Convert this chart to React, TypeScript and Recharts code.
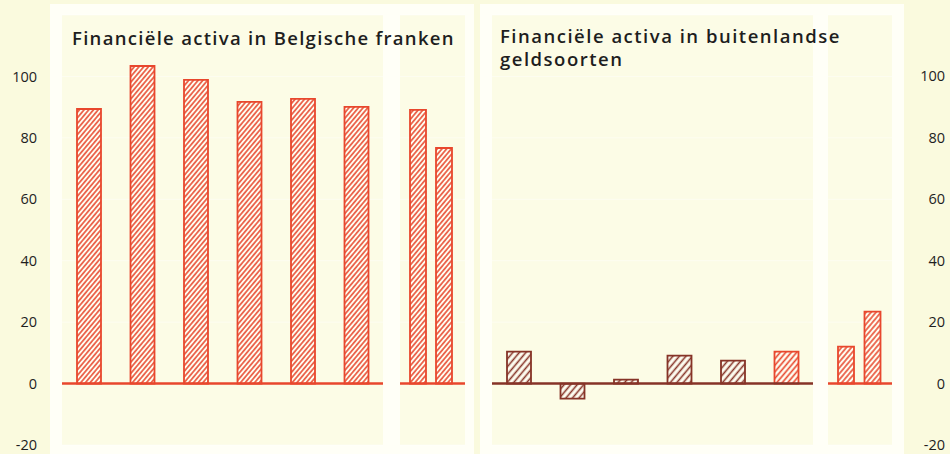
import React from "react";
import { BarChart, Bar, XAxis, YAxis, ReferenceLine, CartesianGrid, Cell } from "recharts";

const mainPeriods = ["1", "2", "3", "4", "5", "6"];
const recentPeriods = ["7", "8"];
const francsMain = [89.4, 103.4, 98.9, 91.7, 92.7, 90.1];
const francsRecent = [89.1, 76.7];
const foreignMain = [10.4, -4.9, 1.3, 9.1, 7.5, 10.4];
const foreignRecent = [12.0, 23.4];
const foreignHighlight = [false, false, false, false, false, true];
const yTicks = [-20, 0, 20, 40, 60, 80, 100];

const RED = "#e8472d";
const BROWN = "#863327";
const PANEL = "#fcfce6";
const CARD = "#fffff7";
const PAGE = "#fafade";
const H = 454;
const margin = { top: 15, right: 0, bottom: 9, left: 0 };
const domain: [number, number] = [-20, 120];
const tickFont = { fontFamily: "'Open Sans', sans-serif", fontSize: 14.5, fill: "#1e1e1e" };

const toRows = (cats: string[], vals: number[]) => cats.map((c, i) => ({ period: c, value: vals[i] }));

function Hatch({ id, color, gap, w }: { id: string; color: string; gap: number; w: number }) {
  return (
    <defs>
      <pattern id={id} patternUnits="userSpaceOnUse" width={gap} height={gap} patternTransform="rotate(40)">
        <rect width={gap} height={gap} fill="#fefef2" />
        <line x1={gap / 2} y1={0} x2={gap / 2} y2={gap} stroke={color} strokeWidth={w} />
      </pattern>
    </defs>
  );
}

const grid = <CartesianGrid vertical={false} stroke="#ffffff" strokeOpacity={0.45} />;

export default function App() {
  const panel = (left: number, width: number) => (
    <div style={{ position: "absolute", left, top: 15, width, height: 430, background: PANEL }} />
  );
  const title: React.CSSProperties = {
    position: "absolute",
    fontFamily: "'Open Sans', sans-serif",
    fontWeight: 600,
    fontSize: 18.5,
    letterSpacing: 1.5,
    color: "#1e1e1e",
    lineHeight: "23px",
    whiteSpace: "nowrap",
  };

  return (
    <div style={{ position: "absolute", left: 0, top: 0, width: 950, height: H, background: PAGE, overflow: "hidden" }}>
      <div style={{ position: "absolute", left: 50, top: 4, width: 424, height: 460, background: CARD }} />
      <div style={{ position: "absolute", left: 480, top: 4, width: 424, height: 460, background: CARD }} />
      {panel(62, 321)}
      {panel(400, 65)}
      {panel(492, 321)}
      {panel(828, 64)}

      <div style={{ position: "absolute", left: 0, top: 0 }}>
        <BarChart width={383} height={H} data={toRows(mainPeriods, francsMain)} margin={margin}>
          <Hatch id="hatchA" color={RED} gap={3.6} w={1.5} />
          {grid}
          <XAxis dataKey="period" hide />
          <YAxis domain={domain} ticks={yTicks} width={62} axisLine={false} tickLine={false} tickSize={0} tickMargin={25} tick={tickFont} />
          <ReferenceLine y={0} stroke={RED} strokeWidth={2.5} />
          <Bar dataKey="value" barSize={24} fill="url(#hatchA)" stroke={RED} strokeWidth={1.8} isAnimationActive={false} />
        </BarChart>
      </div>

      <div style={{ position: "absolute", left: 400, top: 0 }}>
        <BarChart width={65} height={H} data={toRows(recentPeriods, francsRecent)} margin={margin}>
          <Hatch id="hatchB" color={RED} gap={3.6} w={1.5} />
          {grid}
          <XAxis dataKey="period" hide padding={{ left: 5, right: 8 }} />
          <YAxis domain={domain} ticks={yTicks} hide />
          <ReferenceLine y={0} stroke={RED} strokeWidth={2.5} />
          <Bar dataKey="value" barSize={16} fill="url(#hatchB)" stroke={RED} strokeWidth={1.8} isAnimationActive={false} />
        </BarChart>
      </div>

      <div style={{ position: "absolute", left: 492, top: 0 }}>
        <BarChart width={321} height={H} data={toRows(mainPeriods, foreignMain)} margin={margin}>
          <Hatch id="hatchC" color={BROWN} gap={5} w={1.6} />
          <Hatch id="hatchC2" color={RED} gap={4.2} w={1.6} />
          {grid}
          <XAxis dataKey="period" hide />
          <YAxis domain={domain} ticks={yTicks} hide />
          <ReferenceLine y={0} stroke={BROWN} strokeWidth={2.5} />
          <Bar dataKey="value" barSize={24} strokeWidth={1.8} isAnimationActive={false}>
            {foreignHighlight.map((hl, i) => (
              <Cell key={i} fill={hl ? "url(#hatchC2)" : "url(#hatchC)"} stroke={hl ? RED : BROWN} />
            ))}
          </Bar>
        </BarChart>
      </div>

      <div style={{ position: "absolute", left: 828, top: 0 }}>
        <BarChart width={122} height={H} data={toRows(recentPeriods, foreignRecent)} margin={margin}>
          <Hatch id="hatchD" color={RED} gap={3.8} w={1.5} />
          {grid}
          <XAxis dataKey="period" hide padding={{ left: 5, right: 6 }} />
          <YAxis
            orientation="right"
            domain={domain}
            ticks={yTicks}
            width={58}
            axisLine={false}
            tickLine={false}
            tickSize={0}
            tick={({ x, y, payload }: any) => (
              <text x={x + 51} y={y} dy={5} textAnchor="end" {...tickFont}>
                {payload.value}
              </text>
            )}
          />
          <ReferenceLine y={0} stroke={RED} strokeWidth={2.5} />
          <Bar dataKey="value" barSize={16} fill="url(#hatchD)" stroke={RED} strokeWidth={1.8} isAnimationActive={false} />
        </BarChart>
      </div>

      <div style={{ ...title, left: 72, top: 26, letterSpacing: 1.3 }}>Financiële activa in Belgische franken</div>
      <div style={{ ...title, left: 500, top: 24 }}>
        Financiële activa in buitenlandse
        <br />
        geldsoorten
      </div>
    </div>
  );
}
